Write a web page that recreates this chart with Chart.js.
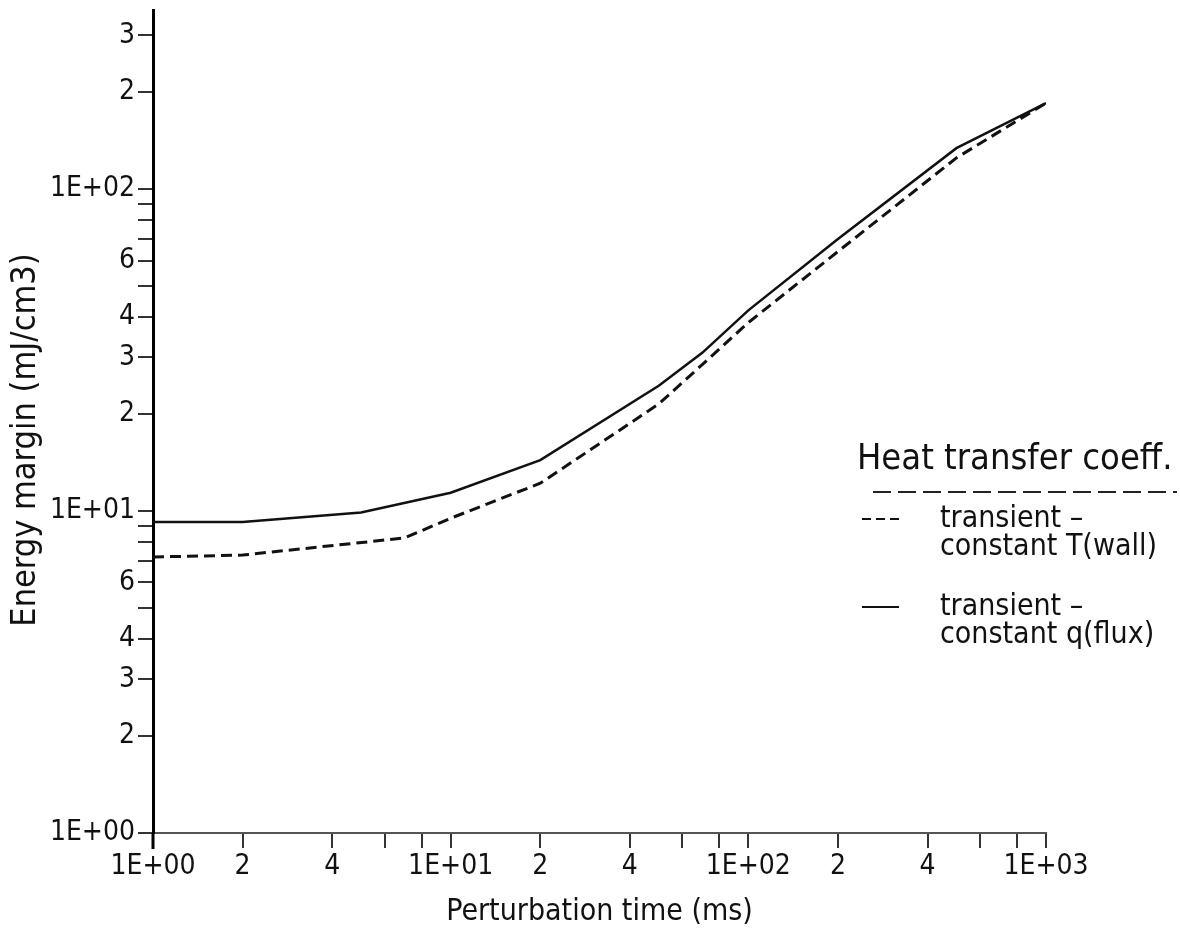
<!DOCTYPE html>
<html>
<head>
<meta charset="utf-8">
<title>Energy margin vs perturbation time</title>
<script src="https://cdn.jsdelivr.net/npm/chart.js@4.4.1/dist/chart.umd.min.js"></script>
<style>
  html, body { margin: 0; padding: 0; background: #fff; }
  #wrap { position: relative; width: 1180px; height: 940px; }
  .plotfont { font-family: "DejaVu Sans Condensed", "DejaVu Sans", sans-serif; color: #111; }
  #legend-title { position: absolute; left: 857px; top: 436px; font-size: 36px; line-height: 42px; white-space: nowrap; }
  #legend-rule { position: absolute; left: 873px; top: 491px; width: 304px; height: 2px;
    background: repeating-linear-gradient(to right, #222 0 18px, transparent 18px 25px); }
  .entry { position: absolute; left: 940px; font-size: 30px; line-height: 28px; white-space: nowrap; }
  .sample { position: absolute; left: 862px; width: 37px; height: 2px; }
  .sample.dashed { background: repeating-linear-gradient(to right, #111 0 9px, transparent 9px 14px); }
  .sample.solid { background: #111; }
</style>
</head>
<body>
<div id="wrap">
  <canvas id="chart" width="1180" height="940"></canvas>
  <div id="legend-title" class="plotfont">Heat transfer coeff.</div>
  <div id="legend-rule"></div>
  <div class="sample dashed" style="top:518px"></div>
  <div class="entry plotfont" style="top:503px">transient –<br>constant T(wall)</div>
  <div class="sample solid" style="top:606px"></div>
  <div class="entry plotfont" style="top:591px">transient –<br>constant q(flux)</div>
</div>
<script>
// perturbation time (ms) and energy margin (mJ/cm3)
const timeWall = [1, 2, 7, 10, 20, 50, 70, 100, 200, 500, 1000];
const marginWall = [7.2, 7.3, 8.25, 9.5, 12.2, 21.5, 28.5, 38.5, 64, 125, 185];

const timeFlux = [1, 2, 5, 10, 20, 50, 70, 100, 200, 500, 1000];
const marginFlux = [9.25, 9.25, 9.9, 11.4, 14.4, 24.5, 31, 42, 70, 134, 185];

const xTickValues = [1, 2, 4, 6, 8, 10, 20, 40, 60, 80, 100, 200, 400, 600, 800, 1000];
const xTickLabels = ['1E+00', '2', '4', '', '', '1E+01', '2', '4', '', '', '1E+02', '2', '4', '', '', '1E+03'];

const yTickValues = [1, 2, 3, 4, 5, 6, 7, 8, 9, 10, 20, 30, 40, 50, 60, 70, 80, 90, 100, 200, 300];
const yTickLabels = ['1E+00', '2', '3', '4', '', '6', '', '', '', '1E+01', '2', '3', '4', '', '6', '', '', '', '1E+02', '2', '3'];

const xTitle = 'Perturbation time (ms)';
const yTitle = 'Energy margin (mJ/cm3)';

const FONT = '"DejaVu Sans Condensed", "DejaVu Sans", sans-serif';

function pairs(xs, ys) {
    return xs.map((x, i) => ({ x: x, y: ys[i] }));
}

// y title sits off the axis centre in the original, so draw it by hand
const yTitlePlugin = {
    id: 'yTitle',
    afterDraw(chart) {
        const ctx = chart.ctx;
        ctx.save();
        ctx.translate(26, 440);
        ctx.rotate(-Math.PI / 2);
        ctx.font = '34px ' + FONT;
        ctx.fillStyle = '#111';
        ctx.textAlign = 'center';
        ctx.textBaseline = 'middle';
        ctx.fillText(yTitle, 0, 0);
        ctx.restore();
    }
};

// the plotter axes overshoot each other a little at the origin
const axisOvershoot = {
    id: 'axisOvershoot',
    afterDraw(chart) {
        const a = chart.chartArea;
        const ctx = chart.ctx;
        ctx.save();
        ctx.strokeStyle = '#000';
        ctx.lineWidth = 3;
        ctx.beginPath();
        ctx.moveTo(a.left, a.bottom);
        ctx.lineTo(a.left, a.bottom + 16);
        ctx.stroke();
        ctx.restore();
    }
};

new Chart(document.getElementById('chart'), {
    type: 'line',
    data: {
        datasets: [
            {
                label: 'transient - constant T(wall)',
                data: pairs(timeWall, marginWall),
                borderColor: '#111',
                borderWidth: 3,
                borderDash: [11, 6],
                pointRadius: 0,
                tension: 0,
                fill: false
            },
            {
                label: 'transient - constant q(flux)',
                data: pairs(timeFlux, marginFlux),
                borderColor: '#111',
                borderWidth: 2.5,
                pointRadius: 0,
                tension: 0,
                fill: false
            }
        ]
    },
    options: {
        responsive: false,
        animation: false,
        layout: { padding: { top: 10, right: 134, left: 0, bottom: 0 } },
        plugins: {
            legend: { display: false },
            tooltip: { enabled: false }
        },
        scales: {
            x: {
                type: 'logarithmic',
                min: 1,
                max: 1000,
                afterBuildTicks: (scale) => { scale.ticks = xTickValues.map(v => ({ value: v })); },
                afterFit: (scale) => { scale.height = 107; scale.paddingLeft = 0; scale.paddingRight = 0; },
                ticks: {
                    autoSkip: false,
                    maxRotation: 0,
                    padding: 2,
                    color: '#111',
                    font: { family: FONT, size: 28 },
                    callback: (v, i) => xTickLabels[i]
                },
                grid: { drawOnChartArea: false, drawTicks: true, tickLength: 15, color: '#333', lineWidth: 2 },
                border: { color: '#555', width: 2 },
                title: {
                    display: true,
                    text: xTitle,
                    color: '#111',
                    font: { family: FONT, size: 30 },
                    padding: { top: 0, bottom: 10 }
                }
            },
            y: {
                type: 'logarithmic',
                min: 1,
                max: 360,
                afterBuildTicks: (scale) => { scale.ticks = yTickValues.map(v => ({ value: v })); },
                afterFit: (scale) => { scale.width = 153; scale.paddingTop = 0; scale.paddingBottom = 0; },
                ticks: {
                    autoSkip: false,
                    padding: 3,
                    color: '#111',
                    font: { family: FONT, size: 28 },
                    callback: (v, i) => yTickLabels[i]
                },
                grid: { drawOnChartArea: false, drawTicks: true, tickLength: 15, color: '#333', lineWidth: 2 },
                border: { color: '#000', width: 3 }
            }
        }
    },
    plugins: [yTitlePlugin, axisOvershoot]
});
</script>
</body>
</html>
